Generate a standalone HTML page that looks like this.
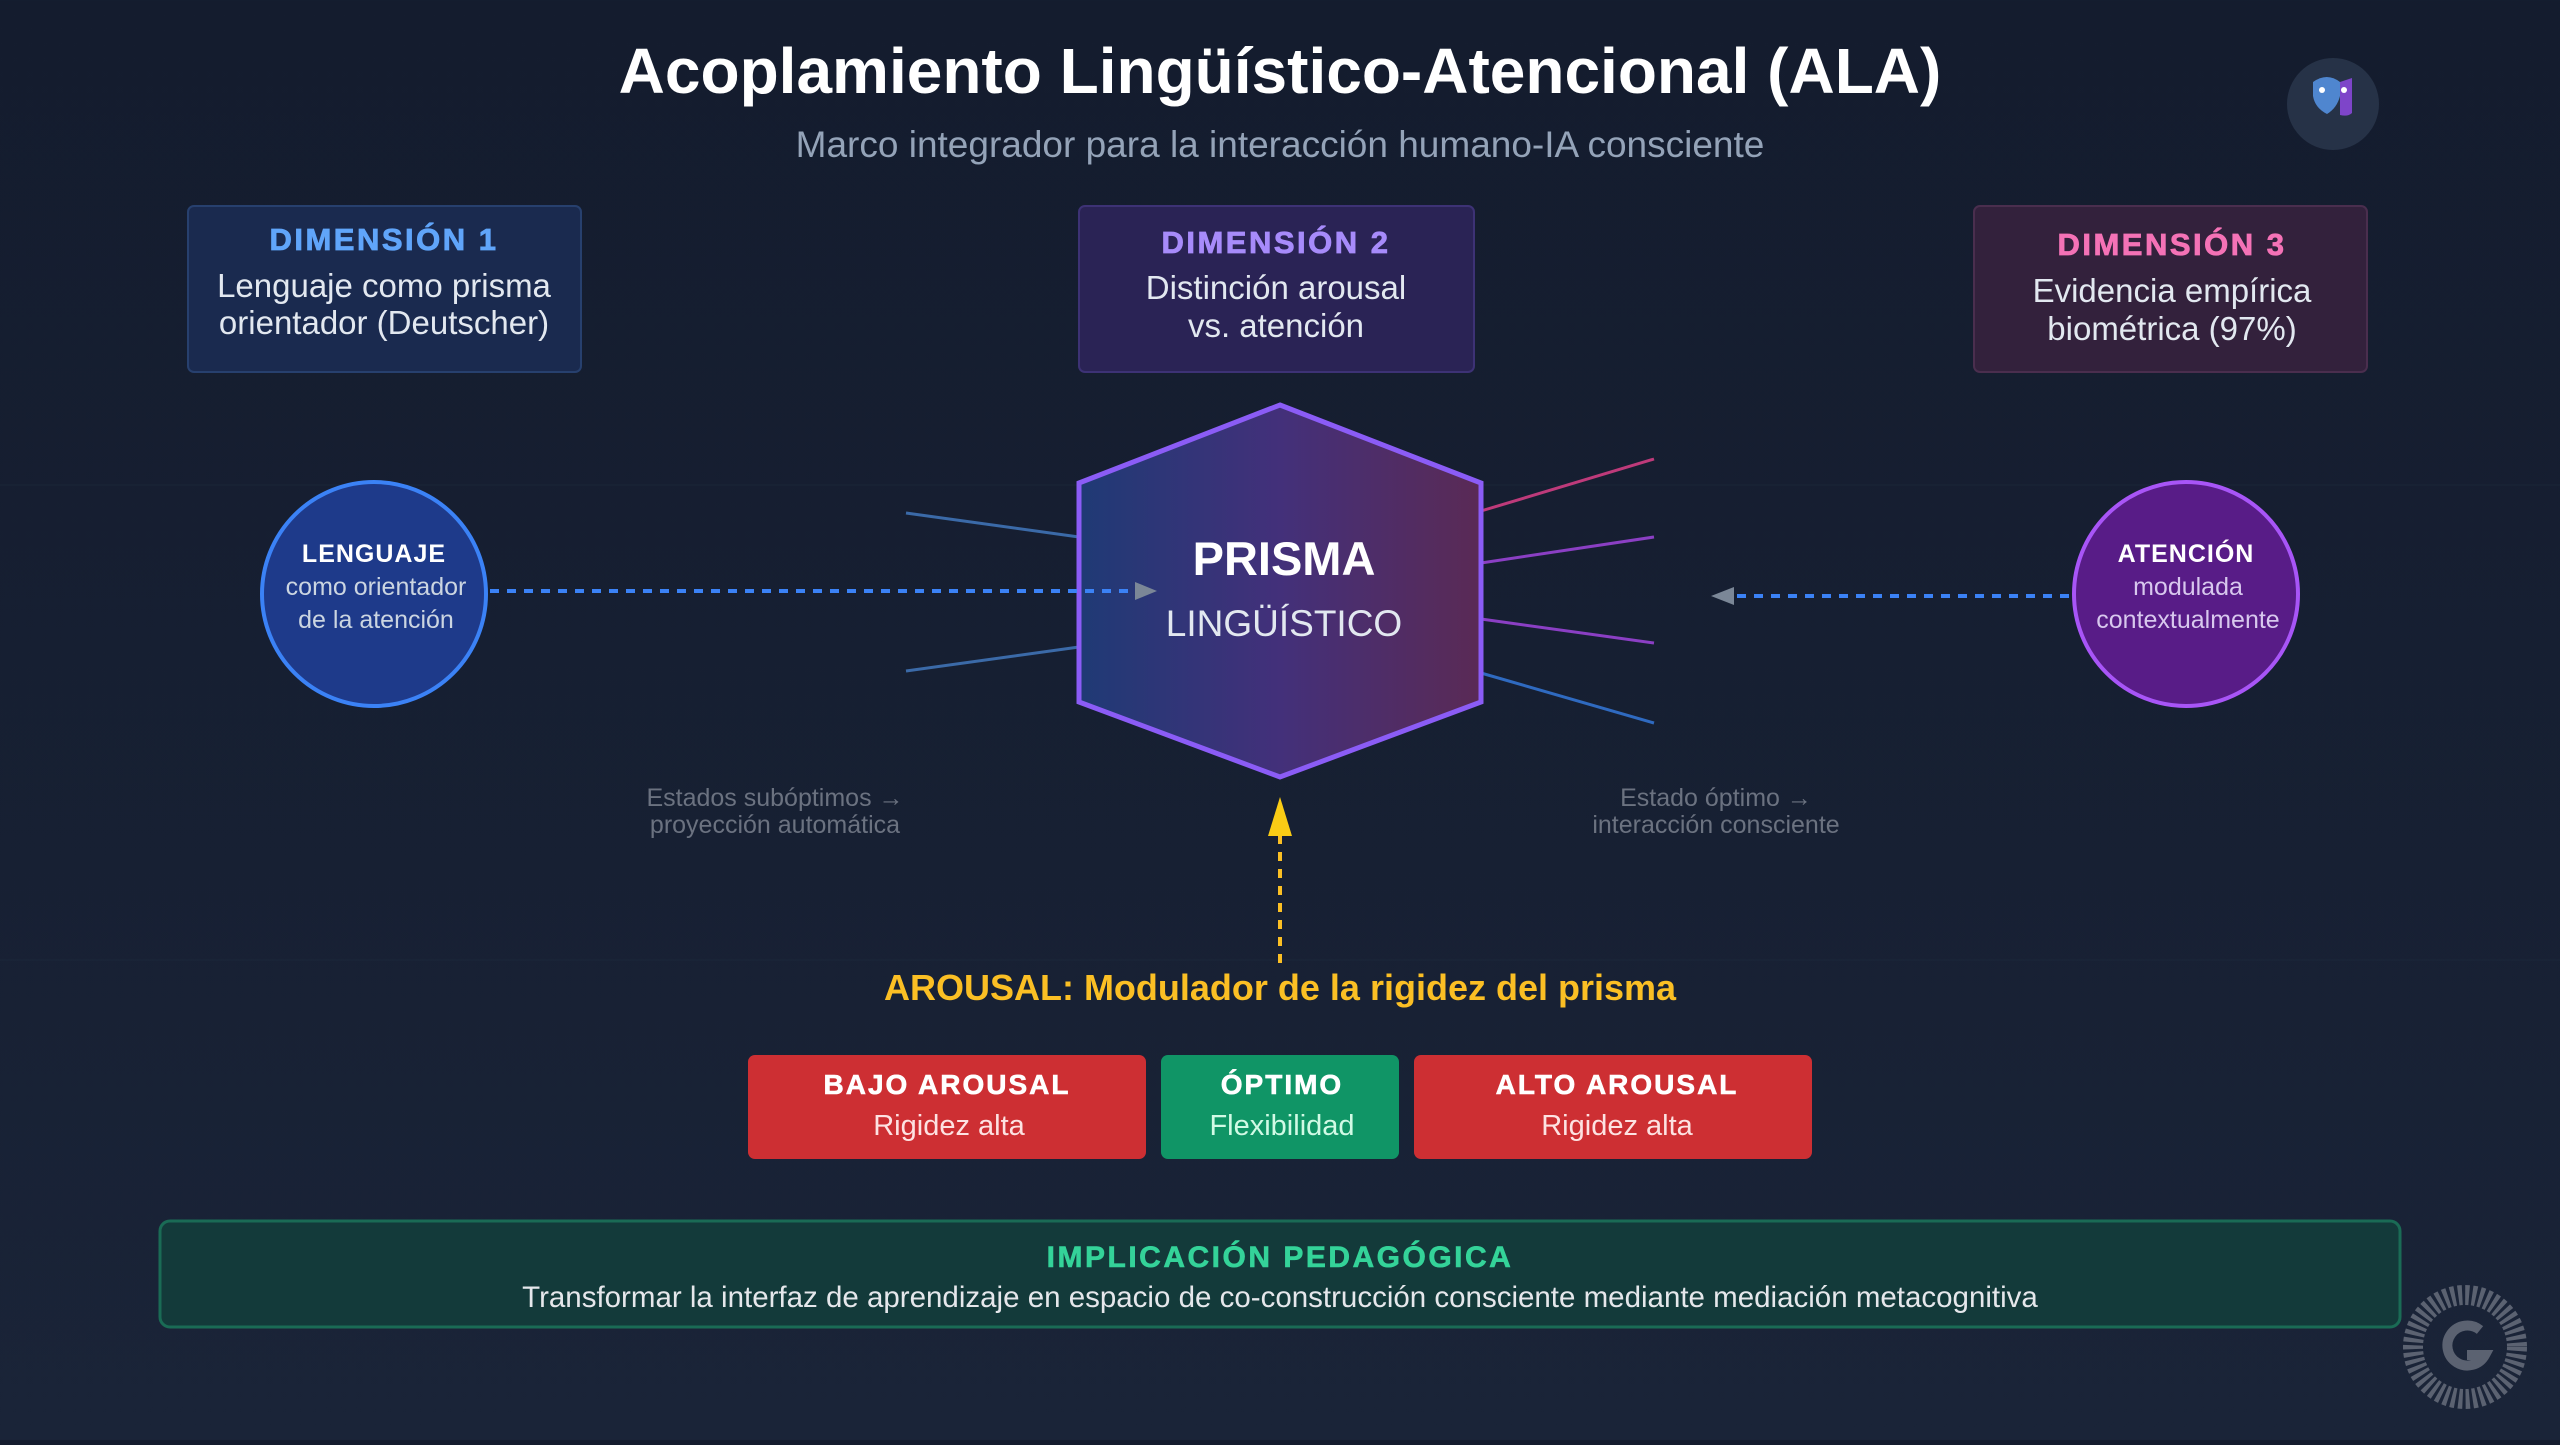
<!DOCTYPE html>
<html><head><meta charset="utf-8"><style>
html,body{margin:0;padding:0}
body{width:2560px;height:1440px;overflow:hidden;background:linear-gradient(180deg,#141c2e 0%,#172033 60%,#1a2438 100%);font-family:"Liberation Sans",sans-serif;}
</style></head><body>
<svg width="2560" height="1440" viewBox="0 0 2560 1440" xmlns="http://www.w3.org/2000/svg" font-family="Liberation Sans, sans-serif">
<defs>
<linearGradient id="hg" x1="0" x2="1" y1="0" y2="0">
<stop offset="0" stop-color="#1f3a75"/><stop offset="0.5" stop-color="#43307a"/><stop offset="1" stop-color="#5a2a55"/>
</linearGradient>
</defs>
<g stroke="#1e2a3e" stroke-width="1" opacity="0.6">
<line x1="0" y1="485" x2="2560" y2="485"/><line x1="0" y1="960" x2="2560" y2="960"/>
</g>
<text x="1280" y="93" text-anchor="middle" font-size="64" font-weight="bold" fill="#ffffff">Acoplamiento Lingüístico-Atencional (ALA)</text>
<text x="1280" y="157" text-anchor="middle" font-size="37" fill="#94a3b8">Marco integrador para la interacción humano-IA consciente</text>
<circle cx="2333" cy="104" r="46" fill="#263247"/>
<path d="M2313 82 q14-10 27 0 v14 q-3 12 -13 18 q-12-6 -14-18z" fill="#4f86cf"/>
<path d="M2340 82 l12-4 v35 q-4 4 -12 2z" fill="#7e45c9"/>
<circle cx="2322" cy="90" r="3" fill="#fff"/><circle cx="2344" cy="90" r="3" fill="#fff"/>
<rect x="188" y="206" width="393" height="166" rx="6" fill="#1a2a4f" stroke="#27406e" stroke-width="2"/>
<text x="384" y="250" text-anchor="middle" font-size="31" font-weight="bold" fill="#60a5fa" letter-spacing="2.5" stroke="#60a5fa" stroke-width="0.8">DIMENSIÓN 1</text>
<text x="384" y="297" text-anchor="middle" font-size="33" fill="#e2e8f0">Lenguaje como prisma</text>
<text x="384" y="334" text-anchor="middle" font-size="33" fill="#e2e8f0">orientador (Deutscher)</text>
<rect x="1079" y="206" width="395" height="166" rx="6" fill="#2a2355" stroke="#3d3275" stroke-width="2"/>
<text x="1276" y="253" text-anchor="middle" font-size="31" font-weight="bold" fill="#a78bfa" letter-spacing="2.5" stroke="#a78bfa" stroke-width="0.8">DIMENSIÓN 2</text>
<text x="1276" y="299" text-anchor="middle" font-size="33" fill="#e2e8f0">Distinción arousal</text>
<text x="1276" y="337" text-anchor="middle" font-size="33" fill="#e2e8f0">vs. atención</text>
<rect x="1974" y="206" width="393" height="166" rx="6" fill="#33213c" stroke="#4a2e4e" stroke-width="2"/>
<text x="2172" y="255" text-anchor="middle" font-size="31" font-weight="bold" fill="#f472b6" letter-spacing="2.5" stroke="#f472b6" stroke-width="0.8">DIMENSIÓN 3</text>
<text x="2172" y="302" text-anchor="middle" font-size="33" fill="#e2e8f0">Evidencia empírica</text>
<text x="2172" y="340" text-anchor="middle" font-size="33" fill="#e2e8f0">biométrica (97%)</text>
<g stroke-width="3">
<line x1="906" y1="513" x2="1079" y2="537" stroke="#3b6aa8"/>
<line x1="906" y1="671" x2="1079" y2="647" stroke="#3b6aa8"/>
<line x1="1481" y1="511" x2="1654" y2="459" stroke="#be3a7a"/>
<line x1="1481" y1="563" x2="1654" y2="537" stroke="#8b3fc4"/>
<line x1="1481" y1="619" x2="1654" y2="643" stroke="#8b3fc4"/>
<line x1="1481" y1="673" x2="1654" y2="723" stroke="#2f6ac0"/>
</g>
<polygon points="1280,405 1481,483 1481,702 1280,777 1079,702 1079,483" fill="url(#hg)" stroke="#8b5cf6" stroke-width="5"/>
<line x1="490" y1="591" x2="1137" y2="591" stroke="#3b82f6" stroke-width="4" stroke-dasharray="9,8"/>
<polygon points="1135,582 1157,591 1135,600" fill="#7b8797"/>
<text x="1284" y="575" text-anchor="middle" font-size="47" font-weight="bold" fill="#ffffff">PRISMA</text>
<text x="1284" y="636" text-anchor="middle" font-size="37" fill="#e2e8f0">LINGÜÍSTICO</text>
<line x1="2069" y1="596" x2="1734" y2="596" stroke="#3b82f6" stroke-width="4" stroke-dasharray="9,8"/>
<polygon points="1734,587 1711,596 1734,605" fill="#7b8797"/>
<circle cx="374" cy="594" r="112" fill="#1e3a8a" stroke="#3b82f6" stroke-width="4"/>
<text x="374" y="562" text-anchor="middle" font-size="25" font-weight="bold" fill="#fff" letter-spacing="1">LENGUAJE</text>
<text x="376" y="595" text-anchor="middle" font-size="25" fill="#cbd5e1">como orientador</text>
<text x="376" y="628" text-anchor="middle" font-size="25" fill="#cbd5e1">de la atención</text>
<circle cx="2186" cy="594" r="112" fill="#581c87" stroke="#a855f7" stroke-width="4"/>
<text x="2186" y="562" text-anchor="middle" font-size="25" font-weight="bold" fill="#fff" letter-spacing="1">ATENCIÓN</text>
<text x="2188" y="595" text-anchor="middle" font-size="25" fill="#d8c8ee">modulada</text>
<text x="2188" y="628" text-anchor="middle" font-size="25" fill="#d8c8ee">contextualmente</text>
<text x="775" y="806" text-anchor="middle" font-size="25" fill="#6b7280">Estados subóptimos →</text>
<text x="775" y="833" text-anchor="middle" font-size="25" fill="#6b7280">proyección automática</text>
<text x="1716" y="806" text-anchor="middle" font-size="25" fill="#6b7280">Estado óptimo →</text>
<text x="1716" y="833" text-anchor="middle" font-size="25" fill="#6b7280">interacción consciente</text>
<line x1="1280" y1="963" x2="1280" y2="834" stroke="#fbbf24" stroke-width="4" stroke-dasharray="9,8"/>
<polygon points="1268,836 1280,797 1292,836" fill="#facc15"/>
<text x="1280" y="1000" text-anchor="middle" font-size="36" font-weight="bold" fill="#fbbf24">AROUSAL: Modulador de la rigidez del prisma</text>
<rect x="748" y="1055" width="398" height="104" rx="7" fill="#cd2f33"/>
<text x="947" y="1094" text-anchor="middle" font-size="28" font-weight="bold" fill="#fff" letter-spacing="2" stroke="#fff" stroke-width="0.6">BAJO AROUSAL</text>
<text x="949" y="1135" text-anchor="middle" font-size="29" fill="#fde2e2">Rigidez alta</text>
<rect x="1161" y="1055" width="238" height="104" rx="7" fill="#109566"/>
<text x="1282" y="1094" text-anchor="middle" font-size="28" font-weight="bold" fill="#fff" letter-spacing="2" stroke="#fff" stroke-width="0.6">ÓPTIMO</text>
<text x="1282" y="1135" text-anchor="middle" font-size="29" fill="#d1fae5">Flexibilidad</text>
<rect x="1414" y="1055" width="398" height="104" rx="7" fill="#cd2f33"/>
<text x="1617" y="1094" text-anchor="middle" font-size="28" font-weight="bold" fill="#fff" letter-spacing="2" stroke="#fff" stroke-width="0.6">ALTO AROUSAL</text>
<text x="1617" y="1135" text-anchor="middle" font-size="29" fill="#fde2e2">Rigidez alta</text>
<rect x="160" y="1221" width="2240" height="106" rx="10" fill="#133a3a" stroke="#1a6b55" stroke-width="3"/>
<text x="1280" y="1267" text-anchor="middle" font-size="30" font-weight="bold" fill="#34d399" letter-spacing="2.5" stroke="#34d399" stroke-width="0.6">IMPLICACIÓN PEDAGÓGICA</text>
<text x="1280" y="1307" text-anchor="middle" font-size="29.5" fill="#e5e7eb">Transformar la interfaz de aprendizaje en espacio de co-construcción consciente mediante mediación metacognitiva</text>
<circle cx="2465" cy="1347" r="52" fill="none" stroke="#6b7280" stroke-width="20" stroke-dasharray="4,3" opacity="0.8"/>
<path d="M2480 1330 a20 20 0 1 0 5 25 h-18" fill="none" stroke="#6b7280" stroke-width="10" opacity="0.8"/>
</svg>
</body></html>
